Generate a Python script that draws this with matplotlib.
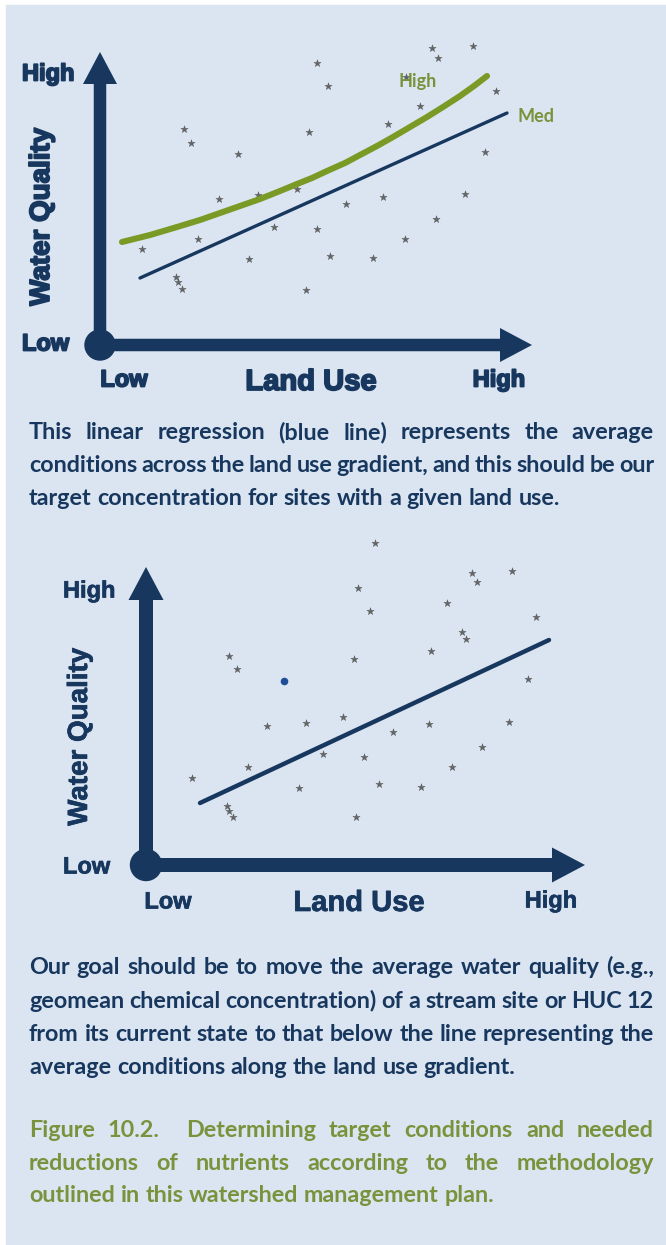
import matplotlib
matplotlib.use("Agg")
import matplotlib.pyplot as plt
import matplotlib.patches as patches
import matplotlib.patheffects as pe

W, H = 666, 1245
NAVY = "#17375e"
GREEN = "#77933c"
LINE_GREEN = "#7a9a26"
BG = "#dbe5f1"
DOT = "#505050"

# ---- chart 1 data (land use, water quality), origin at the arrow corner ----
top_x = [217, 228, 84, 91, 138, 209, 119, 158, 197, 98, 42, 174, 217, 149, 230,
         76, 78, 82, 206, 332, 338, 373, 306, 396, 320, 288, 385, 283, 365, 246,
         336, 305, 273]
top_y = [282, 259, 216, 202, 191, 213, 146, 150, 156, 106, 96, 118, 116, 86, 89,
         68, 63, 56, 55, 297, 287, 299, 268, 254, 239, 221, 193, 148, 151, 141,
         126, 106, 87]
high_x = [22, 50, 77, 100, 120, 140, 160, 180, 197, 212, 227, 245, 260, 277,
          293, 310, 327, 343, 360, 374, 387]
high_y = [103, 110, 118, 125, 132, 139, 146, 154, 161, 167, 174, 182, 190, 199,
          208, 218, 228, 238, 249, 259, 269]
med_x = [40, 407]
med_y = [67, 232]

# ---- chart 2 data ----
bot_x = [83, 91, 208, 285, 316, 320, 382, 121, 160, 197, 247, 283, 363, 46, 102,
         177, 218, 336, 306, 153, 233, 275, 81, 83, 87, 210, 229, 212, 224, 326,
         331, 366, 301, 390]
bot_y = [209, 196, 206, 214, 233, 226, 186, 139, 142, 148, 133, 141, 143, 87, 98,
         111, 108, 118, 98, 77, 81, 78, 59, 54, 48, 48, 322, 277, 254, 292,
         283, 294, 262, 248]
site_x = [138]
site_y = [184]
reg_x = [54, 403]
reg_y = [62, 225]

para1 = ["This linear regression (blue line) represents the average",
         "conditions across the land use gradient, and this should be our",
         "target concentration for sites with a given land use."]
para2 = ["Our goal should be to move the average water quality (e.g.,",
         "geomean chemical concentration) of a stream site or HUC 12",
         "from its current state to that below the line representing the",
         "average conditions along the land use gradient."]
caption = ["Figure 10.2.  Determining target conditions and needed",
           "reductions of nutrients according to the methodology",
           "outlined in this watershed management plan."]

fig = plt.figure(figsize=(W / 100, H / 100), dpi=100)
fig.patch.set_facecolor("white")
fig.patches.append(patches.Rectangle((6 / W, 0), 1 - 6 / W, 1 - 5 / H,
                                     transform=fig.transFigure, color=BG, zorder=-5))


def make_axes(ox, oy, top, bottom):
    # axes spanning full width, one data unit per pixel, origin at (ox, oy) px
    ax = fig.add_axes([0, 1 - bottom / H, 1, (bottom - top) / H])
    ax.set_xlim(-ox, W - ox)
    ax.set_ylim(oy - bottom, oy - top)
    ax.axis("off")
    ax.patch.set_alpha(0)
    return ax


def draw_frame(ax, xlen, ylen, shaft, hw, hl, r):
    ax.arrow(0, 0, 0, ylen, width=shaft, head_width=hw, head_length=hl,
             length_includes_head=True, color=NAVY, lw=0, zorder=3)
    ax.arrow(0, 0, xlen, 0, width=shaft, head_width=hw, head_length=hl,
             length_includes_head=True, color=NAVY, lw=0, zorder=3)
    ax.add_patch(patches.Circle((0, 0), r, color=NAVY, zorder=4))


def lab_font(stroke):
    return dict(family=["Liberation Sans", "DejaVu Sans"], weight="bold", color=NAVY,
                path_effects=[pe.withStroke(linewidth=stroke, foreground=NAVY)])


# ---------------- chart 1 ----------------
f1 = lab_font(1.3)
ax1 = make_axes(100, 345, 20, 420)
draw_frame(ax1, 432, 293, 12.5, 34, 32, 15)
ax1.plot(high_x, high_y, color=LINE_GREEN, lw=4.4, solid_capstyle="round", zorder=2)
ax1.plot(med_x, med_y, color=NAVY, lw=2.4, solid_capstyle="round", zorder=2)
ax1.scatter(top_x, top_y, marker="*", s=30, color=DOT, lw=0.3, edgecolor=DOT,
            alpha=0.85, zorder=1)
ax1.text(-78, 271, "High", ha="left", va="center", fontsize=17, **f1)
ax1.text(-78, 1, "Low", ha="left", va="center", fontsize=17, **f1)
ax1.text(-58, 128, "Water Quality", rotation=90, ha="center", va="center",
         fontsize=20, **f1)
ax1.text(24, -35, "Low", ha="center", va="center", fontsize=17, **f1)
ax1.text(211, -37, "Land Use", ha="center", va="center", fontsize=21, **f1)
ax1.text(399, -35, "High", ha="center", va="center", fontsize=17, **f1)
ax1.text(318, 264, "High", ha="center", va="center", fontsize=13,
         family="Lato", weight="bold", color=GREEN)
ax1.text(436, 229, "Med", ha="center", va="center", fontsize=13,
         family="Lato", weight="bold", color=GREEN)

# ---------------- chart 2 ----------------
f2 = lab_font(0.5)
ax2 = make_axes(146, 865, 530, 930)
draw_frame(ax2, 439, 298, 14, 35, 33, 15.5)
ax2.plot(reg_x, reg_y, color=NAVY, lw=3.2, solid_capstyle="round", zorder=2)
ax2.scatter(bot_x, bot_y, marker="*", s=30, color=DOT, lw=0.3, edgecolor=DOT,
            alpha=0.85, zorder=1)
ax2.scatter(site_x, site_y, marker="o", s=30, color="#1f4e96", lw=0, zorder=2)
ax2.text(-83, 274, "High", ha="left", va="center", fontsize=17, **f2)
ax2.text(-83, -2, "Low", ha="left", va="center", fontsize=17, **f2)
ax2.text(-66, 128, "Water Quality", rotation=90, ha="center", va="center",
         fontsize=20, **f2)
ax2.text(22, -37, "Low", ha="center", va="center", fontsize=17, **f2)
ax2.text(213, -38, "Land Use", ha="center", va="center", fontsize=21, **f2)
ax2.text(405, -36, "High", ha="center", va="center", fontsize=17, **f2)

# ---------------- justified paragraphs ----------------
renderer = fig.canvas.get_renderer()
LEFT, RIGHT = 29, 654


def justify(lines, base0, step, color, size):
    kw = dict(family="Lato", weight="bold", color=color, fontsize=size, va="baseline")
    probe = fig.text(0, 0, "a a", **kw)
    probe2 = fig.text(0, 0, "aa", **kw)
    space = probe.get_window_extent(renderer).width - probe2.get_window_extent(renderer).width
    probe.remove()
    probe2.remove()
    for i, line in enumerate(lines):
        yb = base0 + i * step
        words = line.split(" ")
        texts = [fig.text(0, 0, w, **kw) for w in words]
        widths = [t.get_window_extent(renderer).width if w else 0 for t, w in zip(texts, words)]
        if i == len(lines) - 1:
            gap = space
        else:
            gap = (RIGHT - LEFT - sum(widths)) / (len(words) - 1)
        x = LEFT
        for t, w in zip(texts, widths):
            t.set_position((x / W, 1 - yb / H))
            x += w + gap


justify(para1, 439, 33, NAVY, 16.8)
justify(para2, 974, 33.5, NAVY, 16.8)
justify(caption, 1137, 32.5, GREEN, 16.8)

fig.savefig("out.png", dpi=100, facecolor=fig.get_facecolor())
